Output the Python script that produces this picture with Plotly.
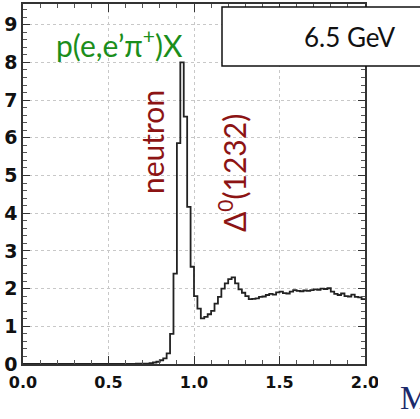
import plotly.graph_objects as go

# histogram bin edges (width 0.02) and counts
bin_edges = [round(0.02 * i, 2) for i in range(101)]
counts = [
    0, 0, 0, 0, 0, 0, 0, 0, 0, 0,            # 0.00-0.18
    0, 0, 0, 0, 0, 0, 0, 0, 0, 0,            # 0.20-0.38
    0, 0, 0, 0, 0, 0, 0, 0, 0, 0,            # 0.40-0.58
    0, 0, 0, 0.01, 0.01, 0.01,               # 0.60-0.70
    0.01, 0.02, 0.04, 0.06,                  # 0.72-0.78
    0.10, 0.15, 0.28, 0.80, 2.40,            # 0.80-0.88
    5.86, 8.00, 6.56, 4.17, 2.58,            # 0.90-0.98
    1.80, 1.47, 1.21, 1.25, 1.32,            # 1.00-1.08
    1.41, 1.60, 1.78, 2.00, 2.14,            # 1.10-1.18
    2.25, 2.30, 2.14, 1.98, 1.89,            # 1.20-1.28
    1.80, 1.72, 1.73, 1.74, 1.78,            # 1.30-1.38
    1.79, 1.83, 1.86, 1.84, 1.90,            # 1.40-1.48
    1.92, 1.88, 1.87, 1.92, 1.96,            # 1.50-1.58
    1.94, 1.93, 1.95, 1.94, 1.96,            # 1.60-1.68
    1.98, 1.97, 2.00, 1.99, 2.01,            # 1.70-1.78
    1.92, 1.86, 1.83, 1.87, 1.80,            # 1.80-1.88
    1.79, 1.84, 1.78, 1.77, 1.72,            # 1.90-1.98
]
x_ticks = [0.0, 0.5, 1.0, 1.5, 2.0]
x_tick_labels = ["0.0", "0.5", "1.0", "1.5", "2.0"]
y_ticks = [0, 1, 2, 3, 4, 5, 6, 7, 8, 9]
y_tick_labels = [str(v) for v in y_ticks]

W, H = 420, 419
L, R, T, B = 23, 55, 4, 55
pw, ph = W - L - R, H - T - B


def px(x):
    return (x - L) / pw


def py(y):
    return (H - B - y) / ph


fig = go.Figure()
fig.add_trace(go.Scatter(
    x=bin_edges, y=counts + [counts[-1]],
    mode="lines", line=dict(color="#222222", width=1.8, shape="hv"),
    hoverinfo="skip", showlegend=False,
))

tickfont_x = dict(family="DejaVu Sans", size=16, color="#111111", weight="bold")
tickfont_y = dict(family="DejaVu Sans", size=19, color="#111111", weight="bold")

fig.update_xaxes(
    range=[0, 2.0], tickvals=x_ticks, ticktext=x_tick_labels, automargin=False,
    showline=True, linecolor="#333333", linewidth=1.6, mirror="ticks",
    ticks="inside", ticklen=8, tickcolor="#333333", tickwidth=1,
    ticklabelstandoff=3,
    minor=dict(dtick=0.1, ticks="inside", ticklen=4, tickcolor="#555555", showgrid=False),
    showgrid=True, gridcolor="#c8c8c8", griddash="dot", gridwidth=1,
    zeroline=False, tickfont=tickfont_x,
)
fig.update_yaxes(
    range=[0, 9.55], tickvals=y_ticks, ticktext=y_tick_labels, automargin=False,
    showline=True, linecolor="#333333", linewidth=1.6, mirror="ticks",
    ticks="inside", ticklen=7, tickcolor="#333333", tickwidth=1,
    minor=dict(dtick=0.2, ticks="inside", ticklen=4, tickcolor="#555555", showgrid=False),
    showgrid=True, gridcolor="#c8c8c8", griddash="dot", gridwidth=1,
    zeroline=False, tickfont=tickfont_y,
)

shapes = [
    # white mask clipping the last tick label at the picture edge
    dict(type="rect", xref="paper", yref="paper",
         x0=px(378), x1=px(425), y0=py(366), y1=py(392),
         fillcolor="white", line=dict(width=0), layer="above"),
    # energy box
    dict(type="rect", xref="paper", yref="paper",
         x0=px(222), x1=px(432), y0=py(66), y1=py(7),
         fillcolor="white", line=dict(color="#111111", width=1.5), layer="above"),
]

annotations = [
    dict(text="6.5 GeV", x=px(350), y=py(37), xref="paper", yref="paper",
         showarrow=False, xanchor="center", yanchor="middle",
         font=dict(family="Lato", size=26, color="#111111")),
    dict(text="p(e,e’π<sup>+</sup>)X", x=px(119), y=py(43), xref="paper", yref="paper",
         showarrow=False, xanchor="center", yanchor="middle",
         font=dict(family="Lato", size=30, color="#1b8e1b")),
    dict(text="neutron", x=px(152), y=py(142), xref="paper", yref="paper",
         showarrow=False, xanchor="center", yanchor="middle", textangle=-90,
         font=dict(family="Lato", size=30, color="#8c1414")),
    dict(text="Δ<sup>0</sup>(1232)", x=px(232), y=py(173), xref="paper", yref="paper",
         showarrow=False, xanchor="center", yanchor="middle", textangle=-90,
         font=dict(family="Lato", size=30, color="#8c1414")),
    dict(text="M", x=px(398), y=py(398), xref="paper", yref="paper",
         showarrow=False, xanchor="left", yanchor="middle",
         font=dict(family="Liberation Serif", size=33, color="#1c2a6b")),
]

fig.update_layout(
    width=W, height=H,
    margin=dict(l=L, r=R, t=T, b=B, pad=0),
    paper_bgcolor="white", plot_bgcolor="white",
    shapes=shapes, annotations=annotations,
    showlegend=False,
)

fig.write_html(
    "out.html",
    config={"displayModeBar": False},
    post_script="document.body.style.margin='0';document.body.style.padding='0';",
)
